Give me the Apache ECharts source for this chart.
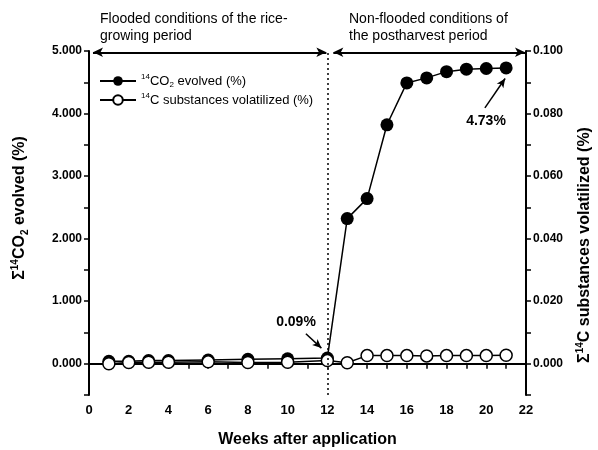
<!DOCTYPE html>
<html>
<head>
<meta charset="utf-8">
<script src="https://cdn.jsdelivr.net/npm/echarts@6/dist/echarts.min.js"></script>
<style>
  html, body { margin: 0; padding: 0; background: #fff; }
  #main { width: 598px; height: 450px; }
</style>
</head>
<body>
<div id="main"></div>
<script>
// weeks after application
var co2Weeks = [1, 2, 3, 4, 6, 8, 10, 12, 13, 14, 15, 16, 17, 18, 19, 20, 21]
var co2Values = [0.04, 0.04, 0.05, 0.05, 0.06, 0.07, 0.08, 0.09, 2.32, 2.64, 3.82, 4.49, 4.57, 4.67, 4.71, 4.72, 4.73]
var volWeeks = [1, 2, 3, 4, 6, 8, 10, 12, 13, 14, 15, 16, 17, 18, 19, 20, 21]
var volValues = [0.0000, 0.0004, 0.0005, 0.0005, 0.0006, 0.0004, 0.0005, 0.0010, 0.0003, 0.0026, 0.0026, 0.0026, 0.0025, 0.0026, 0.0026, 0.0026, 0.0027]
var xTicks = [0, 2, 4, 6, 8, 10, 12, 14, 16, 18, 20, 22]
var leftTicks = [0, 1, 2, 3, 4, 5]
var rightTicks = [0, 0.02, 0.04, 0.06, 0.08, 0.1]

var FONT = '"Liberation Sans", Arial, sans-serif'
var chart = echarts.init(document.getElementById('main'))

function pairs(xs, ys) {
  return xs.map(function (x, i) { return [x, ys[i]] })
}
function isIn(list, v) {
  return list.some(function (t) { return Math.abs(t - v) < 1e-6 })
}

var supRich = {
  n: { fontSize: 13, fontFamily: FONT, color: '#000', lineHeight: 16 },
  sup: { fontSize: 8, fontFamily: FONT, color: '#000', verticalAlign: 'top', lineHeight: 16, padding: [0, 0, 6, 0] },
  sub: { fontSize: 8, fontFamily: FONT, color: '#000', verticalAlign: 'bottom', lineHeight: 16, padding: [6, 0, 0, 0] }
}
var titleRich = {
  n: { fontSize: 16, fontWeight: 'bold', fontFamily: FONT, color: '#000', lineHeight: 20 },
  sup: { fontSize: 10, fontWeight: 'bold', fontFamily: FONT, color: '#000', verticalAlign: 'top', lineHeight: 20, padding: [0, 0, 8, 0] },
  sub: { fontSize: 10, fontWeight: 'bold', fontFamily: FONT, color: '#000', verticalAlign: 'bottom', lineHeight: 20, padding: [8, 0, 0, 0] }
}

var axisCommon = {
  axisLine: { show: true, lineStyle: { color: '#000', width: 2 } },
  axisTick: { show: true, inside: false, length: 5, lineStyle: { color: '#000', width: 1.5 } },
  splitLine: { show: false },
  axisLabel: { color: '#000', fontFamily: FONT, fontWeight: 'bold', fontSize: 12 }
}

chart.setOption({
  animation: false,
  backgroundColor: '#fff',
  grid: { left: 89, right: 72, top: 51, bottom: 55, outerBoundsMode: 'none', containLabel: false },
  legend: {
    orient: 'vertical',
    left: 94,
    top: 68,
    itemWidth: 36,
    itemHeight: 12,
    itemGap: 3,
    textStyle: { rich: supRich, fontSize: 13, color: '#000' },
    formatter: function (name) {
      if (name === 'co2') return '{sup|14}{n|CO}{sub|2}{n| evolved (%)}'
      return '{sup|14}{n|C substances volatilized (%)}'
    },
    data: ['co2', 'vol']
  },
  xAxis: Object.assign({}, axisCommon, {
    type: 'value',
    min: 0, max: 22, interval: 1,
    name: 'Weeks after application',
    nameLocation: 'middle',
    nameGap: 37,
    nameTextStyle: { color: '#000', fontFamily: FONT, fontWeight: 'bold', fontSize: 16 },
    axisLabel: Object.assign({}, axisCommon.axisLabel, {
      fontSize: 13,
      margin: 9,
      formatter: function (v) { return isIn(xTicks, v) ? String(v) : '' }
    })
  }),
  yAxis: [
    Object.assign({}, axisCommon, {
      type: 'value',
      min: -0.5, max: 5, interval: 0.5,
      position: 'left',
      axisLabel: Object.assign({}, axisCommon.axisLabel, {
        margin: 7,
        formatter: function (v) { return isIn(leftTicks, v) ? v.toFixed(3) : '' }
      })
    }),
    Object.assign({}, axisCommon, {
      type: 'value',
      min: -0.01, max: 0.1, interval: 0.01,
      position: 'right',
      axisLabel: Object.assign({}, axisCommon.axisLabel, {
        margin: 7,
        formatter: function (v) { return isIn(rightTicks, v) ? v.toFixed(3) : '' }
      })
    })
  ],
  series: [
    {
      name: 'co2',
      type: 'line',
      yAxisIndex: 0,
      data: pairs(co2Weeks, co2Values),
      symbol: 'circle',
      symbolSize: 13,
      itemStyle: { color: '#000' },
      lineStyle: { color: '#000', width: 1.5 },
      markLine: {
        silent: true,
        label: { show: false },
        data: [
          [{ xAxis: 12, yAxis: -0.5, symbol: 'none', lineStyle: { type: [2, 3], width: 1.5, color: '#000' } },
           { xAxis: 12, yAxis: 4.98, symbol: 'none' }],
          [{ coord: [0.2, 4.98], symbol: 'arrow', symbolSize: [7, 10], lineStyle: { type: 'solid', width: 2, color: '#000' } },
           { coord: [11.95, 4.98], symbol: 'arrow', symbolSize: [7, 10] }],
          [{ coord: [12.3, 4.98], symbol: 'arrow', symbolSize: [7, 10], lineStyle: { type: 'solid', width: 2, color: '#000' } },
           { coord: [21.95, 4.98], symbol: 'arrow', symbolSize: [7, 10] }],
          [{ coord: [10.92, 0.48], symbol: 'none', lineStyle: { type: 'solid', width: 1.5, color: '#000' } },
           { coord: [11.7, 0.25], symbol: 'arrow', symbolSize: [6, 9] }],
          [{ coord: [19.93, 4.09], symbol: 'none', lineStyle: { type: 'solid', width: 1.5, color: '#000' } },
           { coord: [20.95, 4.56], symbol: 'arrow', symbolSize: [6, 9] }]
        ]
      },
      z: 2
    },
    {
      name: 'vol',
      type: 'line',
      yAxisIndex: 1,
      data: pairs(volWeeks, volValues),
      symbol: 'circle',
      symbolSize: 12,
      itemStyle: { color: '#fff', borderColor: '#000', borderWidth: 1.5 },
      lineStyle: { color: '#000', width: 1.5 },
      z: 3
    }
  ],
  graphic: [
    { type: 'text', left: 100, top: 11, style: { text: 'Flooded conditions of the rice-\ngrowing period', font: '14px ' + FONT, fill: '#000', lineHeight: 17 } },
    { type: 'text', left: 349, top: 11, style: { text: 'Non-flooded conditions of\nthe postharvest period', font: '14px ' + FONT, fill: '#000', lineHeight: 17 } },
    { type: 'text', x: 296, y: 322, style: { text: '0.09%', font: 'bold 14px ' + FONT, fill: '#000', align: 'center', verticalAlign: 'middle' } },
    { type: 'text', x: 486, y: 121, style: { text: '4.73%', font: 'bold 14px ' + FONT, fill: '#000', align: 'center', verticalAlign: 'middle' } },
    { type: 'text', x: 20, y: 208, rotation: Math.PI / 2,
      style: { text: '{n|Σ}{sup|14}{n|CO}{sub|2}{n| evolved (%)}', rich: titleRich, align: 'center', verticalAlign: 'middle' } },
    { type: 'text', x: 585, y: 245, rotation: Math.PI / 2,
      style: { text: '{n|Σ}{sup|14}{n|C substances volatilized (%)}', rich: titleRich, align: 'center', verticalAlign: 'middle' } }
  ]
})
</script>
</body>
</html>
